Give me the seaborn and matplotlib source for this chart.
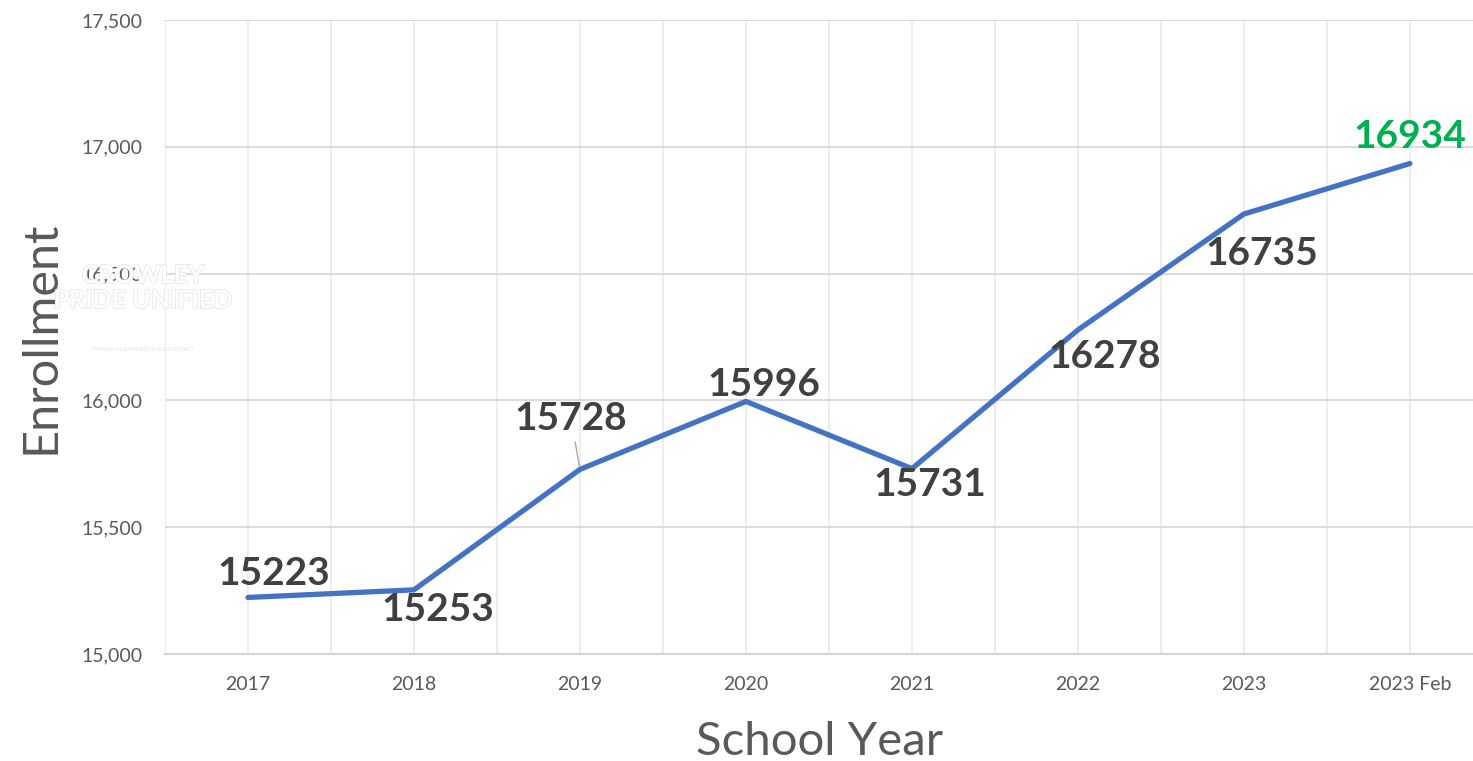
import numpy as np
import pandas as pd
import matplotlib
matplotlib.use("Agg")
import matplotlib.pyplot as plt
import matplotlib.patheffects as pe
import seaborn as sns

# data
years = ["2017", "2018", "2019", "2020", "2021", "2022", "2023", "2023 Feb"]
enrollment = [15223, 15253, 15728, 15996, 15731, 16278, 16735, 16934]
# label offsets (pixels) relative to each point
label_dx = [26, 24, -9, 18, 18, 27, 18, 0]
label_dy = [24, -20, 51, 17, -16, -27, -39, 27]

sns.set_theme(style="white")
plt.rcParams["font.family"] = ["Lato", "DejaVu Sans"]

df = pd.DataFrame({"year": years, "enrollment": enrollment})

fig = plt.figure(figsize=(14.73, 7.61), dpi=100)
ax = fig.add_axes([165 / 1473, 107 / 761, 1308 / 1473, 634 / 761])

sns.lineplot(data=df, x="year", y="enrollment", color="#4472C4",
             linewidth=3.8, ax=ax, solid_capstyle="round", zorder=3)

ax.set_yticks(np.arange(15000, 17501, 500))
ax.set_yticklabels([f"{v:,}" for v in np.arange(15000, 17501, 500)])
ax.set_xticks(range(len(years)))
ax.set_xticklabels(years)
ax.set_xticks(np.arange(-0.5, 8, 1.0), minor=True)
ax.set_xlim(-0.5, 7.38)
ax.set_ylim(15000, 17500)

ax.grid(axis="y", color="#d9d9d9", linewidth=1.3, zorder=0)
ax.grid(axis="x", which="both", color="#ececec", linewidth=1.3, zorder=0)
for s in ["top", "right", "left"]:
    ax.spines[s].set_visible(False)
ax.spines["bottom"].set_color("#d4d4d4")
ax.spines["bottom"].set_linewidth(1.5)

ax.tick_params(axis="both", which="both", length=0, labelsize=14,
               labelcolor="#595959")
ax.tick_params(axis="y", pad=16)
ax.tick_params(axis="x", pad=16)

ax.set_xlabel("School Year", fontsize=34, color="#595959", labelpad=20)
ax.set_ylabel("Enrollment", fontsize=35, color="#595959", labelpad=14)

# watermark logo text
fig.text(143 / 1473, 1 - 288 / 761, "CROWLEY\nPRIDE UNIFIED",
         ha="center", va="center", fontsize=18, fontweight="bold",
         color="white", linespacing=1.1, zorder=5,
         path_effects=[pe.withStroke(linewidth=1.0, foreground="#e3e3e3")])
fig.text(143 / 1473, 1 - 350 / 761, "CROWLEY INDEPENDENT SCHOOL DISTRICT",
         ha="center", va="center", fontsize=3.5, color="#e3e3e3", zorder=5)

# data labels
for i, (y, dx, dy) in enumerate(zip(enrollment, label_dx, label_dy)):
    color = "#00B050" if i == len(years) - 1 else "#404040"
    arrow = None
    if years[i] == "2019":
        arrow = dict(arrowstyle="-", color="#a6a6a6", lw=1,
                     shrinkA=2, shrinkB=2)
    ax.annotate(str(y), xy=(i, y), xytext=(dx, dy),
                textcoords="offset pixels", ha="center", va="center",
                fontsize=28, fontweight="bold", color=color,
                arrowprops=arrow, zorder=4)

fig.savefig("out.png", dpi=100)
